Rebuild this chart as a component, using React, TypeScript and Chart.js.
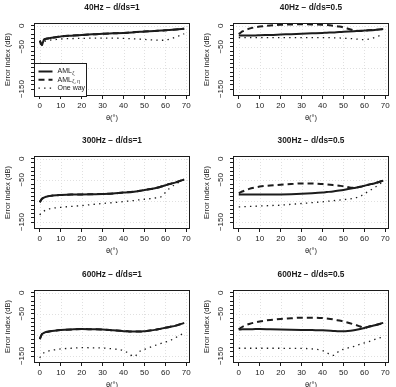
import React, { useEffect, useRef } from "react";
import { Chart, registerables } from "chart.js";

Chart.register(...registerables);

// Incidence angles (degrees) at which every curve is sampled
const THETA = [0, 1, 2, 3, 5, 8, 10, 15, 20, 25, 30, 35, 40, 42, 45, 48, 50, 55, 58, 60, 62, 65, 69];

// Axis ticks and limits
const X_TICKS = [0, 10, 20, 30, 40, 50, 60, 70];
const Y_TICKS = [-150, -140, -130, -120, -110, -100, -90, -80, -70, -60, -50, -40, -30, -20, -10, 0];
const Y_TICK_LABELS = [0, -50, -150];
const Y_GRID = [0, -50, -100, -150];
const X_LIMITS = [-2.76, 71.76];
const Y_LIMITS = [-166.4, 6.4];

// 40 Hz, d/ds = 1
const AML_40_D1 = [-35, -45, -33, -31, -29, -27, -25.5, -23.5, -22, -20.5, -19, -18, -17, -16.5, -15.5, -14.5, -14, -12.5, -11.5, -11, -10, -9, -7];
const AMLETA_40_D1 = [-36, -46, -33, -31, -29, -27, -25.5, -23.5, -22, -20.5, -19, -18, -17, -16.5, -15.5, -14.5, -14, -12.5, -11.5, -11, -10, -9, -7];
const ONEWAY_40_D1 = [-44, -41, -38, -36, -34, -32.5, -31.5, -30.5, -30, -29.5, -29.5, -29.5, -30, -30.5, -31, -32, -32.5, -34, -34.5, -34, -32, -27, -19];

// 40 Hz, d/ds = 0.5
const AML_40_D05 = [-23, -23, -23, -23, -23, -23, -22.5, -22, -21, -20, -19, -18, -17, -16.5, -16, -15, -14.5, -13, -12, -11.5, -11, -10, -8];
const AMLETA_40_D05 = [-20, -16, -13, -11, -7, -3.5, -2, 0.5, 2, 3, 3.5, 3, 2, 1.5, 0, -2, -4, -11, -12.5, -11.5, -11, -10, -8];
const ONEWAY_40_D05 = [-28, -28, -28, -28, -28, -28, -28, -28, -28, -28, -28, -28, -28, -28, -28.5, -29, -29.5, -31, -32.5, -33, -32, -28, -20];

// 300 Hz, d/ds = 1
const AML_300_D1 = [-103, -95, -92, -90, -88, -86.5, -86, -85, -84.5, -84, -83.5, -82.5, -80, -79.5, -78, -76, -74, -70, -66, -63, -60, -56, -49];
const AMLETA_300_D1 = [-103, -95, -92, -90, -88, -86.5, -86, -85, -84.5, -84, -83.5, -82.5, -80, -79.5, -78, -76, -74, -70, -66, -63, -60, -56, -49];
const ONEWAY_300_D1 = [-133, -127, -124, -121, -118, -116, -115, -113, -111, -108.5, -106, -104, -101.5, -100.5, -99, -97, -96, -93, -90, -80, -70, -60, -50];

// 300 Hz, d/ds = 0.5
const AML_300_D05 = [-84.5, -84.6, -84.7, -84.8, -85, -85, -85, -85, -84.6, -84, -83, -81.7, -80, -79, -77.5, -75.5, -74, -69.5, -66.5, -64, -61.5, -58, -52];
const AMLETA_300_D05 = [-81.5, -79, -77, -75, -71.5, -68, -66, -63.5, -61.5, -60, -58.5, -58.5, -60, -61, -62.5, -64, -65, -69, -66.5, -64, -61.5, -58, -52];
const ONEWAY_300_D05 = [-114, -114, -113.5, -113.5, -113, -112.5, -112, -111, -110, -108, -106, -104, -102, -101, -99.5, -98, -97, -93.5, -89, -83, -77, -68, -54];

// 600 Hz, d/ds = 1
const AML_600_D1 = [-110, -98.5, -95, -93, -91, -89.5, -88.5, -87, -86, -86.5, -87, -89, -91, -91.5, -92, -92, -91, -88, -85, -83, -81, -78, -71.5];
const AMLETA_600_D1 = [-110, -98.5, -95, -93, -91, -89.5, -88.5, -87, -86, -86.5, -87, -89, -91, -91.5, -92, -92, -91, -88, -85, -83, -81, -78, -71.5];
const ONEWAY_600_D1 = [-154, -147, -142, -140, -137, -134.5, -133, -131.5, -130, -130.5, -131, -133, -137, -142, -151, -138, -134, -125, -120, -117, -114, -106, -95];

// 600 Hz, d/ds = 0.5
const AML_600_D05 = [-87, -87, -86.5, -86.5, -86.5, -86, -86, -86.5, -87, -87.5, -88, -88.5, -89, -89.5, -90.5, -91.5, -91.5, -89, -86, -83.5, -80.5, -77, -71.5];
const AMLETA_600_D05 = [-87, -83, -80, -77.5, -74, -70, -68, -64.5, -62, -60.5, -59, -59, -60, -61, -63, -66, -68, -75, -80, -83.5, -80.5, -77, -71.5];
const ONEWAY_600_D05 = [-131.5, -131.5, -131.5, -131.5, -131.5, -131.5, -131.5, -131.5, -131.5, -132, -132, -133, -137, -142, -148.5, -138, -134, -127, -122, -119, -116, -110.5, -104.5];

const TITLES = [
  "40Hz \u2212 d/ds=1",
  "40Hz \u2212 d/ds=0.5",
  "300Hz \u2212 d/ds=1",
  "300Hz \u2212 d/ds=0.5",
  "600Hz \u2212 d/ds=1",
  "600Hz \u2212 d/ds=0.5",
];

const PANEL_SERIES = [
  [AML_40_D1, AMLETA_40_D1, ONEWAY_40_D1],
  [AML_40_D05, AMLETA_40_D05, ONEWAY_40_D05],
  [AML_300_D1, AMLETA_300_D1, ONEWAY_300_D1],
  [AML_300_D05, AMLETA_300_D05, ONEWAY_300_D05],
  [AML_600_D1, AMLETA_600_D1, ONEWAY_600_D1],
  [AML_600_D05, AMLETA_600_D05, ONEWAY_600_D05],
];

// Legend entries: base text and subscript
const LEGEND_ITEMS = [
  ["AML", "\u03b6"],
  ["AML", "\u03b6, \u03b7"],
  ["One way", ""],
];

// Line styles for AML_zeta, AML_zeta,eta and one-way
const STYLES = [
  { width: 2, dash: [] as number[] },
  { width: 2, dash: [6, 4] },
  { width: 1.3, dash: [1.4, 4.2] },
];

const W = 198;
const H = 134;
const BOX_RIGHT = 190;
const BOX_LEFT = 34;
const BOX_TOP = 23;
const BOX_BOTTOM = 96;
const FONT = "'Liberation Sans', Arial, Helvetica, sans-serif";
const INK = "#1c1c1c";

const decor = {
  id: "decor",
  beforeDatasetsDraw(chart: any) {
    const { ctx, chartArea: a, scales } = chart;
    const x = scales.x;
    const y = scales.y;
    ctx.save();
    ctx.strokeStyle = "#e0e0e0";
    ctx.lineWidth = 1;
    ctx.setLineDash([1, 2]);
    ctx.beginPath();
    for (const v of X_TICKS) {
      const px = Math.round(x.getPixelForValue(v)) + 0.5;
      ctx.moveTo(px, a.top);
      ctx.lineTo(px, a.bottom);
    }
    for (const v of Y_GRID) {
      const py = Math.round(y.getPixelForValue(v)) + 0.5;
      ctx.moveTo(a.left, py);
      ctx.lineTo(a.right, py);
    }
    ctx.stroke();
    ctx.restore();
  },
  afterDraw(chart: any, _args: any, opts: any) {
    const { ctx, chartArea: a, scales } = chart;
    const y = scales.y;
    ctx.save();

    // plot frame
    ctx.strokeStyle = INK;
    ctx.lineWidth = 1;
    ctx.setLineDash([]);
    ctx.strokeRect(Math.round(a.left) + 0.5, Math.round(a.top) + 0.5, Math.round(a.right - a.left) - 1, Math.round(a.bottom - a.top) - 1);

    // rotated y tick labels
    ctx.fillStyle = INK;
    ctx.font = `8px ${FONT}`;
    ctx.textAlign = "center";
    ctx.textBaseline = "middle";
    for (const v of Y_TICK_LABELS) {
      const py = y.getPixelForValue(v);
      ctx.save();
      ctx.translate(a.left - 12, py);
      ctx.rotate(-Math.PI / 2);
      ctx.fillText(v < 0 ? "\u2212" + Math.abs(v) : String(v), 0, 0);
      ctx.restore();
    }

    // y axis title
    ctx.save();
    ctx.font = `7.5px ${FONT}`;
    ctx.translate(a.left - 26, (a.top + a.bottom) / 2);
    ctx.rotate(-Math.PI / 2);
    ctx.fillText("Error index (dB)", 0, 0);
    ctx.restore();

    // x axis title
    ctx.font = `7.5px ${FONT}`;
    ctx.fillText("\u03b8(\u00b0)", (a.left + a.right) / 2, a.bottom + 22);

    // panel title
    ctx.font = `bold 8.3px ${FONT}`;
    ctx.fillText(opts.title, (a.left + a.right) / 2, a.top - 15);

    if (opts.legend) {
      const lw = 52;
      const lh = 33;
      const lx = Math.round(a.left) + 0.5;
      const ly = Math.round(a.bottom - lh) + 0.5;
      ctx.fillStyle = "#fff";
      ctx.fillRect(lx, ly, lw, lh);
      ctx.strokeStyle = INK;
      ctx.lineWidth = 1;
      ctx.strokeRect(lx, ly, lw, lh);
      LEGEND_ITEMS.forEach(([txt, sub], i) => {
        const ry = ly + 8 + i * 8.3;
        const st = STYLES[i];
        ctx.strokeStyle = INK;
        ctx.lineWidth = st.width;
        ctx.setLineDash(st.dash);
        ctx.beginPath();
        ctx.moveTo(lx + 4, ry);
        ctx.lineTo(lx + 18, ry);
        ctx.stroke();
        ctx.setLineDash([]);
        ctx.fillStyle = INK;
        ctx.textAlign = "left";
        ctx.font = `7px ${FONT}`;
        ctx.fillText(txt, lx + 23, ry);
        if (sub) {
          const tw = ctx.measureText(txt).width;
          ctx.font = `5px ${FONT}`;
          ctx.fillText(sub, lx + 23 + tw + 0.3, ry + 2.2);
        }
      });
    }
    ctx.restore();
  },
};

function makeConfig(idx: number): any {
  const series = PANEL_SERIES[idx];
  const datasets = series.map((vals, k) => ({
    data: THETA.map((t, i) => ({ x: t, y: vals[i] })),
    borderColor: INK,
    borderWidth: STYLES[k].width,
    borderDash: STYLES[k].dash,
    pointRadius: 0,
    fill: false,
    cubicInterpolationMode: "monotone",
  }));
  return {
    type: "line",
    data: { datasets },
    plugins: [decor],
    options: {
      animation: false,
      responsive: false,
      devicePixelRatio: 1,
      layout: {
        autoPadding: false,
        padding: { left: 0, top: BOX_TOP, right: W - BOX_RIGHT, bottom: 0 },
      },
      plugins: {
        legend: { display: false },
        tooltip: { enabled: false },
        decor: { title: TITLES[idx], legend: idx === 0 },
      },
      scales: {
        x: {
          type: "linear",
          min: X_LIMITS[0],
          max: X_LIMITS[1],
          afterBuildTicks: (s: any) => {
            s.ticks = X_TICKS.map((v) => ({ value: v }));
          },
          afterFit: (s: any) => {
            s.height = H - BOX_BOTTOM;
          },
          border: { display: false },
          grid: { drawOnChartArea: false, drawTicks: true, tickLength: 3, color: INK, tickColor: INK },
          ticks: {
            autoSkip: false,
            maxRotation: 0,
            minRotation: 0,
            padding: 2,
            color: INK,
            font: { family: FONT, size: 8 },
            callback: (v: number) => String(v),
          },
        },
        y: {
          type: "linear",
          min: Y_LIMITS[0],
          max: Y_LIMITS[1],
          afterBuildTicks: (s: any) => {
            s.ticks = Y_TICKS.map((v) => ({ value: v }));
          },
          afterFit: (s: any) => {
            s.width = BOX_LEFT;
          },
          border: { display: false },
          grid: { drawOnChartArea: false, drawTicks: true, tickLength: 3, color: INK, tickColor: INK },
          ticks: { display: false },
        },
      },
    },
  };
}

function Panel({ idx, left, top }: { idx: number; left: number; top: number }) {
  const ref = useRef<HTMLCanvasElement>(null);
  useEffect(() => {
    const chart = new Chart(ref.current as HTMLCanvasElement, makeConfig(idx));
    return () => chart.destroy();
  }, [idx]);
  return (
    <canvas
      ref={ref}
      width={W}
      height={H}
      style={{ position: "absolute", left, top, width: W, height: H }}
    />
  );
}

const ROW_TOPS = [0, 133, 267];
const COL_LEFTS = [0, 199];

export default function App() {
  return (
    <div
      style={{
        position: "absolute",
        left: 0,
        top: 0,
        width: 396,
        height: 387,
        overflow: "hidden",
        background: "#fff",
      }}
    >
      {TITLES.map((_, i) => (
        <Panel key={i} idx={i} left={COL_LEFTS[i % 2]} top={ROW_TOPS[Math.floor(i / 2)]} />
      ))}
    </div>
  );
}
